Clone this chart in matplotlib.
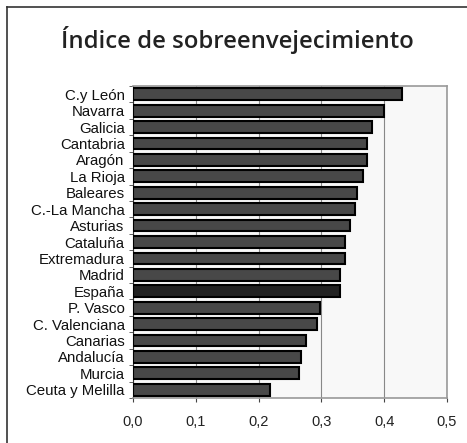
import matplotlib.pyplot as plt
import numpy as np

# Datos
regiones = ["C.y León", "Navarra", "Galicia", "Cantabria", "Aragón", "La Rioja",
            "Baleares", "C.-La Mancha", "Asturias", "Cataluña", "Extremadura",
            "Madrid", "España", "P. Vasco", "C. Valenciana", "Canarias",
            "Andalucía", "Murcia", "Ceuta y Melilla"]
indice = [0.429, 0.399, 0.381, 0.373, 0.373, 0.367, 0.356, 0.354, 0.345,
          0.337, 0.337, 0.329, 0.329, 0.298, 0.293, 0.276, 0.268, 0.265, 0.218]
xticks = [0.0, 0.1, 0.2, 0.3, 0.4, 0.5]
xlabels = ["0,0", "0,1", "0,2", "0,3", "0,4", "0,5"]

fig = plt.figure(figsize=(4.67, 4.43), dpi=100)

# marco exterior
fig.add_artist(plt.Line2D([7/467, 7/467], [0, 1 - 7/443], color="#333333", lw=1.2))
fig.add_artist(plt.Line2D([7/467, 1], [1 - 7/443, 1 - 7/443], color="#333333", lw=1.2))

ax = fig.add_axes([133/467, 1 - 398/443, 314/467, 312/443])
ax.set_facecolor("#f8f8f8")

y = np.arange(len(regiones))
colores = ["#222222" if r == "España" else "#484848" for r in regiones]
ax.barh(y, indice, height=0.72, color=colores, edgecolor="black", linewidth=1.5, zorder=3)

ax.set_xlim(0, 0.5)
ax.set_ylim(len(regiones) - 0.5, -0.5)

ax.set_xticks(xticks)
ax.set_xticklabels(xlabels, fontsize=10.5, family="Liberation Sans", color="#222222")
ax.set_yticks(y)
ax.set_yticklabels(regiones, fontsize=10.8, family="Liberation Sans", color="#111111")
ax.set_yticks(np.arange(len(regiones) + 1) - 0.5, minor=True)
ax.tick_params(axis="y", which="major", length=0, pad=6)
ax.tick_params(axis="y", which="minor", length=3, color="#444444")
ax.tick_params(axis="x", length=3, color="#444444", pad=9)

ax.grid(axis="x", color="#888888", lw=0.8, zorder=1)
for s in ["top", "right", "bottom"]:
    ax.spines[s].set_color("#999999")
    ax.spines[s].set_linewidth(1.2)
ax.spines["left"].set_color("#333333")

fig.text(237/467, 1 - 40/443, "Índice de sobreenvejecimiento", ha="center", va="center",
         fontsize=17.2, family="Open Sans", weight="semibold", color="#222222")

fig.savefig("out.png", dpi=100)
